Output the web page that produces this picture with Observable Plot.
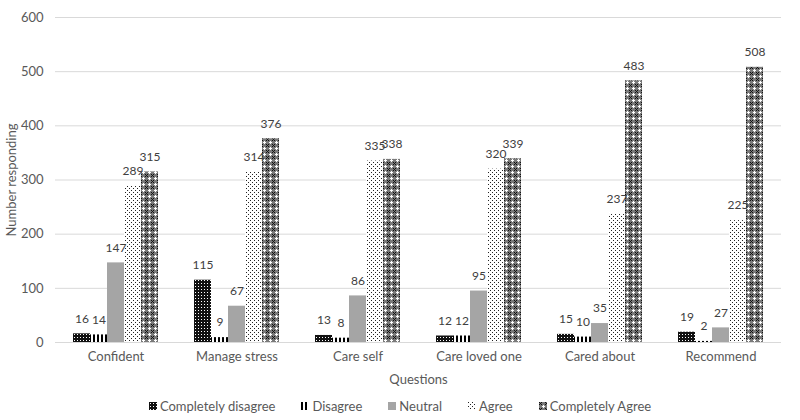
<!DOCTYPE html>
<html>
<head>
<meta charset="utf-8">
<script src="https://cdn.jsdelivr.net/npm/d3@7"></script>
<script src="https://cdn.jsdelivr.net/npm/@observablehq/plot@0.6"></script>
<style>
  body { margin: 0; background: #fff; font-family: Lato, "Open Sans", sans-serif; }
  #chart svg { display: block; }
  #legend { height: 28px; display: flex; justify-content: center; align-items: center; font-size: 13px; color: #595959; }
  .item { display: flex; align-items: center; margin: 0 13px; }
  .item svg { margin-right: 3px; }
</style>
</head>
<body>
<svg width="0" height="0" style="position:absolute">
  <defs>
    <pattern id="p0" width="3" height="3" patternUnits="userSpaceOnUse">
      <rect width="3" height="3" fill="#111"/>
      <rect x="1" y="1" width="1" height="1" fill="#fff"/>
    </pattern>
    <pattern id="p1" width="4" height="4" patternUnits="userSpaceOnUse">
      <rect width="4" height="4" fill="#fff"/>
      <rect x="0" width="2" height="4" fill="#000"/>
    </pattern>
    <pattern id="p2" width="4" height="4" patternUnits="userSpaceOnUse">
      <rect width="4" height="4" fill="#a5a5a5"/>
    </pattern>
    <pattern id="p3" width="4" height="4" patternUnits="userSpaceOnUse">
      <rect width="4" height="4" fill="#fff"/>
      <rect x="0" y="0" width="1" height="1" fill="#222"/>
      <rect x="2" y="2" width="1" height="1" fill="#222"/>
    </pattern>
    <pattern id="p4" width="6" height="6" patternUnits="userSpaceOnUse">
      <rect width="6" height="6" fill="#7a7a7a"/>
      <rect x="0" y="0" width="1" height="1" fill="#111"/>
      <rect x="2" y="0" width="1" height="1" fill="#111"/>
      <rect x="1" y="1" width="1" height="1" fill="#111"/>
      <rect x="0" y="2" width="1" height="1" fill="#111"/>
      <rect x="2" y="2" width="1" height="1" fill="#111"/>
      <rect x="4" y="3" width="1" height="1" fill="#fff"/>
      <rect x="3" y="4" width="3" height="1" fill="#fff"/>
      <rect x="4" y="5" width="1" height="1" fill="#fff"/>
    </pattern>
  </defs>
</svg>
<div id="chart"></div>
<div id="legend"></div>
<script>
const questions = ["Confident", "Manage stress", "Care self", "Care loved one", "Cared about", "Recommend"];
const series = ["Completely disagree", "Disagree", "Neutral", "Agree", "Completely Agree"];
const completelyDisagree = [16, 115, 13, 12, 15, 19];
const disagree = [14, 9, 8, 12, 10, 2];
const neutral = [147, 67, 86, 95, 35, 27];
const agree = [289, 314, 335, 320, 237, 225];
const completelyAgree = [315, 376, 338, 339, 483, 508];
const yTicks = [0, 100, 200, 300, 400, 500, 600];
const fills = ["url(#p0)", "url(#p1)", "url(#p2)", "url(#p3)", "url(#p4)"];

const values = [completelyDisagree, disagree, neutral, agree, completelyAgree];
const data = questions.flatMap((q, i) => series.map((s, j) => ({q, s, v: values[j][i]})));

const chart = Plot.plot({
  width: 800,
  height: 392,
  marginLeft: 54,
  marginRight: 18,
  marginTop: 17,
  marginBottom: 50,
  style: {fontFamily: "Lato, 'Open Sans', sans-serif", fontSize: "13px", color: "#595959"},
  fx: {domain: questions, padding: 0, axis: null},
  x: {domain: series, paddingInner: 0, paddingOuter: 0.91, axis: null},
  y: {domain: [0, 600]},
  color: {domain: series, range: fills},
  marks: [
    Plot.ruleY(yTicks, {stroke: "#d9d9d9", strokeWidth: 1}),
    Plot.barY(data, {fx: "q", x: "s", y: "v", fill: "s"}),
    Plot.text(data, {fx: "q", x: "s", y: "v", text: d => String(d.v), dy: -15, fill: "#404040", fontSize: 12}),
    Plot.axisY({ticks: yTicks, tickSize: 0, tickPadding: 12, label: "Number responding", labelAnchor: "center", labelArrow: "none", labelOffset: 49, fill: "#595959"}),
    Plot.axisFx({anchor: "bottom", tickSize: 0, tickPadding: 9, label: "Questions", labelAnchor: "center", labelArrow: "none", labelOffset: 41, fill: "#595959"})
  ]
});
document.getElementById("chart").appendChild(chart);

const legend = d3.select("#legend");
series.forEach((s, j) => {
  const it = legend.append("div").attr("class", "item");
  const sv = it.append("svg").attr("width", 8).attr("height", 8);
  sv.append("rect").attr("width", 8).attr("height", 8).attr("fill", fills[j]);
  it.append("span").text(s);
});
</script>
</body>
</html>
